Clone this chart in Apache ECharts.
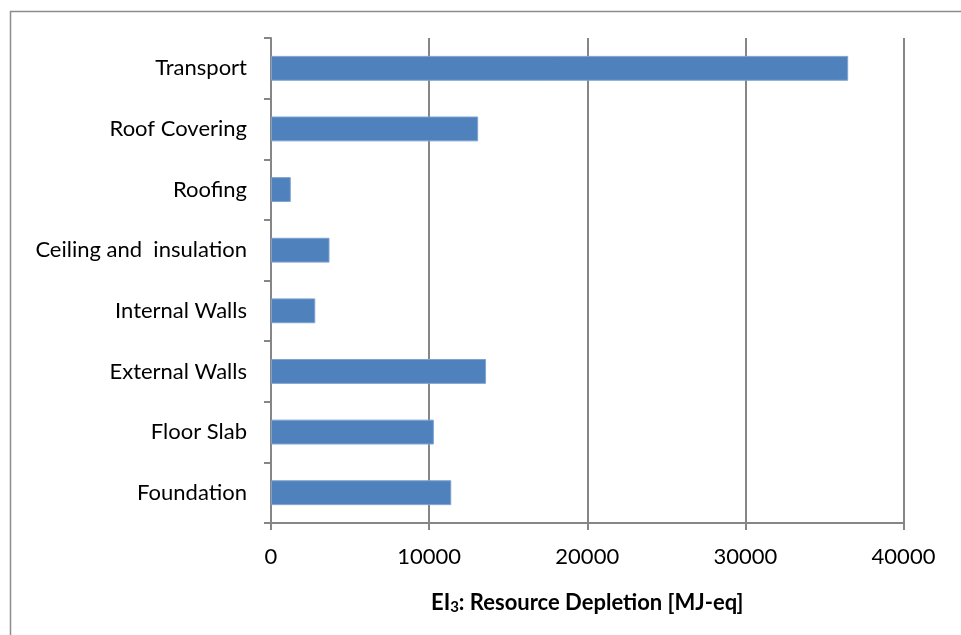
<!DOCTYPE html>
<html>
<head>
<meta charset="utf-8">
<script src="https://cdn.jsdelivr.net/npm/echarts@6/dist/echarts.min.js"></script>
<style>
  html, body { margin: 0; padding: 0; background: #fff; }
  #chart { width: 961px; height: 635px; }
</style>
</head>
<body>
<div id="chart"></div>
<script>
// Building elements, listed bottom to top
const categories = [
  'Foundation',
  'Floor Slab',
  'External Walls',
  'Internal Walls',
  'Ceiling and  insulation',
  'Roofing',
  'Roof Covering',
  'Transport'
];
// Resource depletion per element, MJ-eq
const depletion = [11400, 10300, 13600, 2800, 3700, 1250, 13100, 36500];
const xTicks = [0, 10000, 20000, 30000, 40000];

const FONT = 'Lato, "Liberation Sans", sans-serif';
const AXIS_GREY = '#868686';

const chart = echarts.init(document.getElementById('chart'), null, { renderer: 'canvas' });

chart.setOption({
  animation: false,
  backgroundColor: '#ffffff',
  graphic: [{
    type: 'rect',
    shape: { x: 10.5, y: 11.5, width: 1000, height: 1000 },
    style: { fill: 'none', stroke: '#8c8c8c', lineWidth: 1.5 },
    silent: true
  }],
  grid: { left: 271, right: 57.5, top: 38, bottom: 112, containLabel: false },
  xAxis: {
    type: 'value',
    min: xTicks[0],
    max: xTicks[xTicks.length - 1],
    interval: 10000,
    name: '{b|EI}{s|3}{b|: Resource Depletion [MJ-eq]}',
    nameLocation: 'middle',
    nameGap: 68,
    nameTextStyle: {
      rich: {
        b: { fontFamily: FONT, fontWeight: 'bold', fontSize: 22, color: '#000' },
        s: { fontFamily: FONT, fontWeight: 'bold', fontSize: 15, color: '#000', verticalAlign: 'bottom', padding: [9, 0, 0, 0] }
      }
    },
    axisLine: { show: true, lineStyle: { color: AXIS_GREY, width: 2 } },
    axisTick: { show: true, length: 7, inside: false, lineStyle: { color: AXIS_GREY, width: 2 } },
    axisLabel: {
      fontFamily: FONT, fontSize: 22, color: '#000', margin: 23,
      formatter: (v) => String(v)
    },
    splitLine: { show: true, lineStyle: { color: AXIS_GREY, width: 2 } }
  },
  yAxis: {
    type: 'category',
    data: categories,
    axisLine: { show: true, lineStyle: { color: AXIS_GREY, width: 2 } },
    axisTick: { show: true, length: 7, inside: false, alignWithLabel: false, lineStyle: { color: AXIS_GREY, width: 2 } },
    axisLabel: { fontFamily: FONT, fontSize: 22, color: '#000', margin: 24 },
    splitLine: { show: false }
  },
  series: [{
    type: 'bar',
    data: depletion,
    barWidth: '41%',
    itemStyle: { color: '#4f81bd', borderColor: '#7ea2cf', borderWidth: 1 }
  }]
});
</script>
</body>
</html>
